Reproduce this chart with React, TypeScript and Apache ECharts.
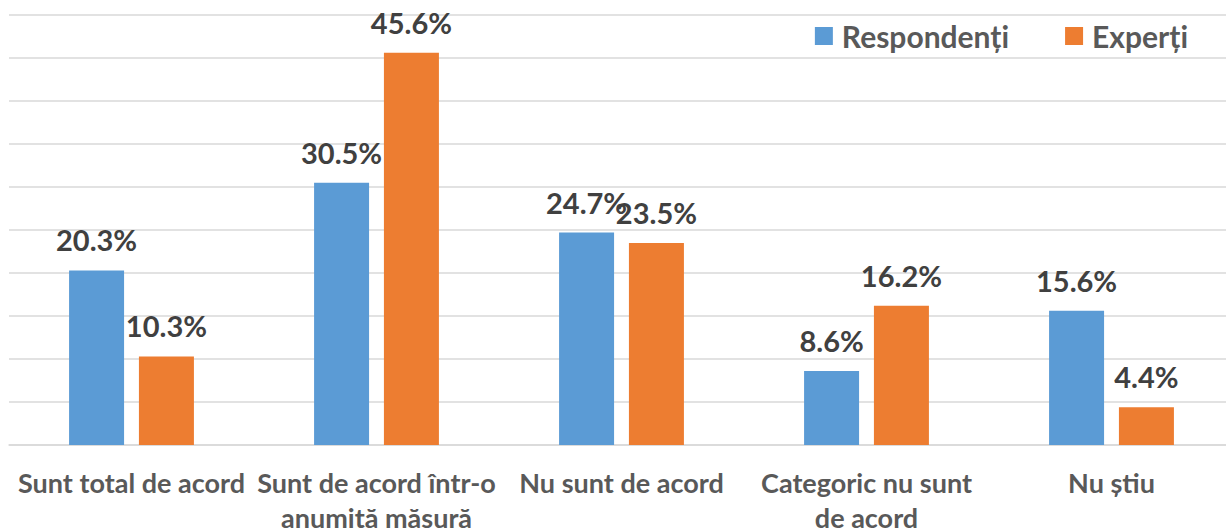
import React, { useEffect, useRef } from "react";
import * as echarts from "echarts";

const categories = [
  "Sunt total de acord",
  "Sunt de acord într-o\nanumită măsură",
  "Nu sunt de acord",
  "Categoric nu sunt\nde acord",
  "Nu știu",
];
const respondenti = [20.3, 30.5, 24.7, 8.6, 15.6];
const experti = [10.3, 45.6, 23.5, 16.2, 4.4];
const seriesNames = ["Respondenți", "Experți"];

const FONT = "Lato, 'Open Sans', sans-serif";

export default function App() {
  const ref = useRef<HTMLDivElement>(null);
  useEffect(() => {
    if (!ref.current) return;
    const chart = echarts.init(ref.current, null, { renderer: "svg" });
    const label = {
      show: true,
      position: "top",
      distance: 16,
      formatter: (p: any) => p.value.toFixed(1) + "%",
      color: "#404040",
      fontFamily: FONT,
      fontWeight: "bold",
      fontSize: 29,
    };
    chart.setOption({
      animation: false,
      textStyle: { fontFamily: FONT },
      grid: { left: 9, right: -8, top: 15, bottom: 84, outerBoundsMode: "none" },
      legend: {
        right: 33,
        top: 16,
        itemWidth: 18,
        itemHeight: 18,
        itemGap: 56,
        icon: "rect",
        textStyle: { color: "#595959", fontSize: 30, fontWeight: "bold", fontFamily: FONT, padding: [0, 0, 0, 4] },
        data: seriesNames,
      },
      xAxis: {
        type: "category",
        data: categories,
        axisLine: { show: true, lineStyle: { color: "#d9d9d9", width: 1.5 } },
        axisTick: { show: false },
        axisLabel: {
          color: "#595959",
          fontSize: 27,
          fontWeight: "bold",
          fontFamily: FONT,
          lineHeight: 35,
          margin: 20,
          interval: 0,
        },
      },
      yAxis: {
        type: "value",
        min: 0,
        max: 50,
        interval: 5,
        axisLabel: { show: false },
        axisLine: { show: false },
        axisTick: { show: false },
        splitLine: { lineStyle: { color: "#d9d9d9", width: 1.5 } },
      },
      series: [
        {
          name: seriesNames[0],
          type: "bar",
          data: respondenti,
          barWidth: 55,
          barGap: "27%",
          itemStyle: { color: "#5B9BD5" },
          label,
        },
        {
          name: seriesNames[1],
          type: "bar",
          data: experti,
          barWidth: 55,
          itemStyle: { color: "#ED7D31" },
          label,
        },
      ],
    });
    return () => chart.dispose();
  }, []);
  return (
    <div
      ref={ref}
      style={{ position: "fixed", left: 0, top: 0, width: 1226, height: 529, background: "#fff" }}
    />
  );
}
